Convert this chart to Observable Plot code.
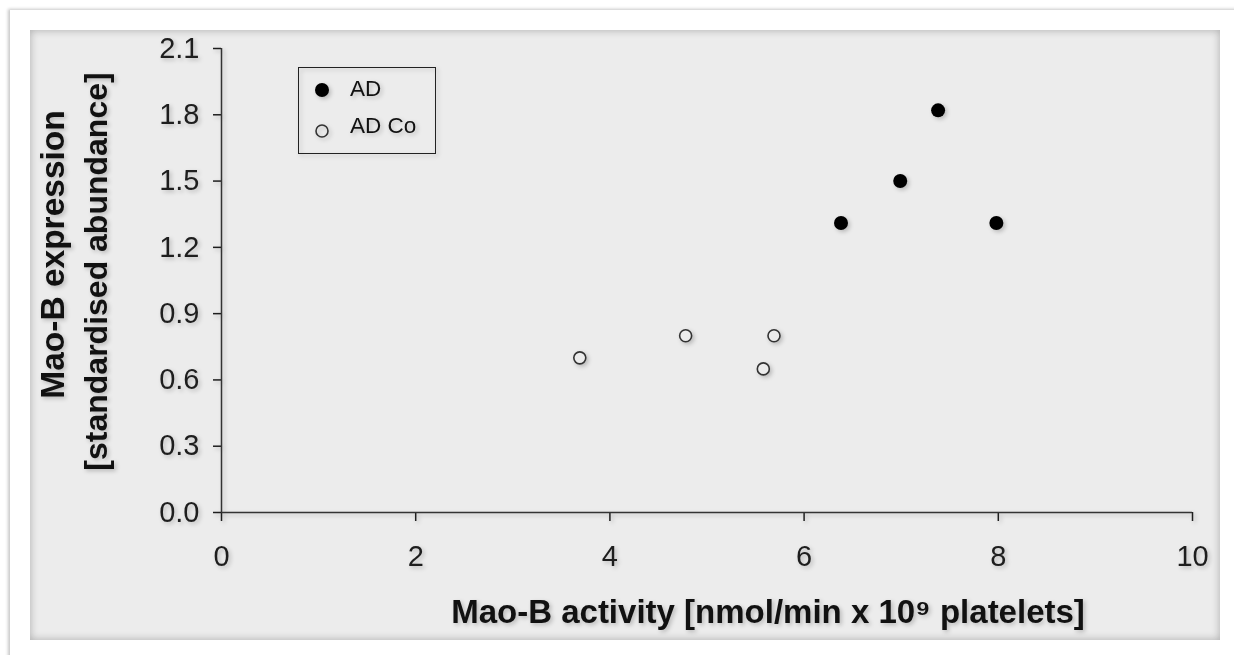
<!DOCTYPE html>
<html>
<head>
<meta charset="utf-8">
<script src="https://cdn.jsdelivr.net/npm/d3@7"></script>
<script src="https://cdn.jsdelivr.net/npm/@observablehq/plot@0.6"></script>
<style>
  html, body { margin: 0; padding: 0; background: #fff; width: 1234px; height: 655px; overflow: hidden; }
  #card { position: absolute; left: 10px; top: 10px; width: 1230px; height: 650px; background: #fff;
          box-shadow: -2px -1px 3px rgba(0,0,0,0.22); }
  #panel { position: absolute; left: 30px; top: 30px; width: 1190px; height: 610px; background: #ececec;
           box-shadow: inset 0 0 8px rgba(0,0,0,0.28); }
  #chart { position: absolute; left: 0; top: 0; }
  #chart svg { filter: drop-shadow(2px 2px 2px rgba(0,0,0,0.22)); }
  #legend { position: absolute; left: 298px; top: 67px; width: 138px; height: 87px; box-sizing: border-box;
            border: 1.5px solid #222; filter: drop-shadow(2px 2px 2px rgba(0,0,0,0.22)); }
</style>
</head>
<body>
<div id="card"></div>
<div id="panel"></div>
<div id="chart"></div>
<div id="legend"></div>
<script>
// ---- data ----
const adX = [6.38, 6.99, 7.38, 7.98];
const adY = [1.31, 1.50, 1.82, 1.31];
const coX = [3.69, 4.78, 5.58, 5.69];
const coY = [0.70, 0.80, 0.65, 0.80];
const seriesNames = ["AD", "AD Co"];
const xTicks = [0, 2, 4, 6, 8, 10];
const yTicks = [0.0, 0.3, 0.6, 0.9, 1.2, 1.5, 1.8, 2.1];
const xLabel = "Mao-B activity [nmol/min x 10\u2079 platelets]";
const yLabel1 = "Mao-B expression";
const yLabel2 = "[standardised abundance]";

const adData = adX.map((x, i) => ({x, y: adY[i]}));
const coData = coX.map((x, i) => ({x, y: coY[i]}));

const font = "'Liberation Sans', Arial, Helvetica, sans-serif";
const panelColor = "#ececec";

const chart = Plot.plot({
  width: 1234,
  height: 655,
  marginLeft: 221,
  marginRight: 42,
  marginTop: 48,
  marginBottom: 143,
  x: {domain: [0, 10]},
  y: {domain: [0, 2.1]},
  style: {background: "transparent", fontFamily: font, overflow: "visible"},
  marks: [
    Plot.axisY({ticks: yTicks, tickFormat: d3.format(".1f"), tickSize: 8, tickPadding: 14,
                fontSize: 29, color: "#1e1e1e", strokeWidth: 1.5, label: null}),
    Plot.axisX({ticks: xTicks, tickFormat: d => String(d), tickSize: 9, tickPadding: 24,
                fontSize: 29, color: "#1e1e1e", strokeWidth: 1.5, label: null}),
    Plot.ruleX([0], {stroke: "#333", strokeWidth: 1.5}),
    Plot.ruleY([0], {stroke: "#333", strokeWidth: 1.5}),
    Plot.dot(coData, {x: "x", y: "y", r: 6, stroke: "#333", strokeWidth: 1.6, fill: panelColor}),
    Plot.dot(adData, {x: "x", y: "y", r: 7, fill: "#000"}),
    Plot.text([xLabel], {text: d => d, frameAnchor: "bottom", textAnchor: "middle", lineAnchor: "middle",
                         dx: 61, dy: 100, fontSize: 33, fontWeight: "bold", fill: "#111"}),
    Plot.text([yLabel1], {text: d => d, frameAnchor: "left", rotate: -90, textAnchor: "middle", lineAnchor: "middle",
                          dx: -168, dy: -26, fontSize: 33.5, fontWeight: "bold", fill: "#111"}),
    Plot.text([yLabel2], {text: d => d, frameAnchor: "left", rotate: -90, textAnchor: "middle", lineAnchor: "middle",
                          dx: -125, dy: -9, fontSize: 32, fontWeight: "bold", fill: "#111"})
  ]
});
document.getElementById("chart").appendChild(chart);

// legend
const lg = d3.select("#legend").append("svg")
  .attr("width", 135).attr("height", 84)
  .style("position", "absolute").style("left", "0").style("top", "0")
  .style("font-family", font);
seriesNames.forEach((name, i) => {
  const cy = i === 0 ? 22 : 63;
  const c = lg.append("circle").attr("cx", 23).attr("cy", cy);
  if (i === 0) c.attr("r", 7).attr("fill", "#000");
  else c.attr("r", 6).attr("fill", "none").attr("stroke", "#333").attr("stroke-width", 1.6);
  lg.append("text").attr("x", 51).attr("y", i === 0 ? 28 : 65)
    .attr("font-size", 22.5).attr("fill", "#111").text(name);
});
</script>
</body>
</html>
